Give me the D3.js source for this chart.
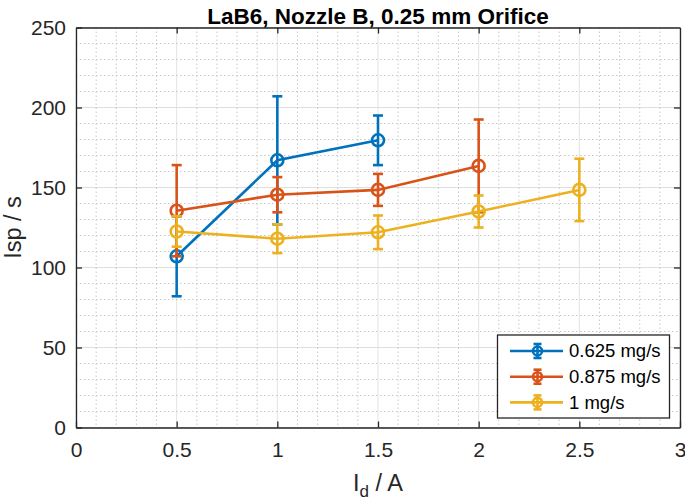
<!DOCTYPE html>
<html><head><meta charset="utf-8">
<script src="https://cdn.jsdelivr.net/npm/d3@7"></script>
<style>body{margin:0;background:#fff}svg{display:block;font-family:"Liberation Sans",Arial,sans-serif}</style>
</head><body><svg id="c" width="685" height="503"></svg>
<script>
const title = "LaB6, Nozzle B, 0.25 mm Orifice";
const seriesNames = ["0.625 mg/s", "0.875 mg/s", "1 mg/s"];
const seriesColors = ["#0072BD", "#D95319", "#EDB120"];
const xBlue = [0.5, 1, 1.5];
const yBlue = [107, 167, 179.5];
const eBlue = [25, 40, 15.5];
const xOrange = [0.5, 1, 1.5, 2];
const yOrange = [135.5, 145.5, 148.5, 163.5];
const eOrange = [28.5, 11, 10, 29];
const xYellow = [0.5, 1, 1.5, 2, 2.5];
const yYellow = [122.5, 118, 122, 135, 148.5];
const eYellow = [9.5, 9, 10.5, 10, 19.5];
const xTicks = [0, 0.5, 1, 1.5, 2, 2.5, 3];
const yTicks = [0, 50, 100, 150, 200, 250];

const series = [
  {x: xBlue, y: yBlue, e: eBlue},
  {x: xOrange, y: yOrange, e: eOrange},
  {x: xYellow, y: yYellow, e: eYellow}
].map((s, i) => ({name: seriesNames[i], color: seriesColors[i],
  pts: s.x.map((v, j) => ({x: v, y: s.y[j], e: s.e[j]}))}));

const svg = d3.select("#c");
const L = 76, R = 680, T = 27.5, B = 427.5;
const x = d3.scaleLinear().domain([0, 3]).range([L, R]);
const y = d3.scaleLinear().domain([0, 250]).range([B, T]);

// grids
const g = svg.append("g");
const minorX = d3.range(0, 3.0001, 0.1).filter(v => Math.abs(v*2 - Math.round(v*2)) > 1e-6);
const minorY = d3.range(0, 250.001, 10).filter(v => v % 50 !== 0);
g.selectAll(".mgx").data(xTicks).join("line").attr("x1", d => x(d)).attr("x2", d => x(d))
  .attr("y1", T).attr("y2", B).attr("stroke", "#e3e3e3").attr("stroke-width", 1);
g.selectAll(".mgy").data(yTicks).join("line").attr("y1", d => y(d)).attr("y2", d => y(d))
  .attr("x1", L).attr("x2", R).attr("stroke", "#dedede").attr("stroke-width", 1.2);
g.selectAll(".nx").data(minorX).join("line").attr("x1", d => x(d)).attr("x2", d => x(d))
  .attr("y1", T).attr("y2", B).attr("stroke", "#c8c8c8").attr("stroke-width", 1).attr("stroke-dasharray", "1.5,2.5");
g.selectAll(".ny").data(minorY).join("line").attr("y1", d => y(d)).attr("y2", d => y(d))
  .attr("x1", L).attr("x2", R).attr("stroke", "#c8c8c8").attr("stroke-width", 1).attr("stroke-dasharray", "1.5,2.5");

// axes
const ax = "#262626";
const tickLen = 6;
const fontTick = 21;
const xb = svg.append("g").attr("transform", `translate(0,${B})`)
  .call(d3.axisBottom(x).tickValues(xTicks).tickSizeInner(-tickLen).tickSizeOuter(0).tickPadding(15).tickFormat(d3.format("")));
const yl = svg.append("g").attr("transform", `translate(${L},0)`)
  .call(d3.axisLeft(y).tickValues(yTicks).tickSizeInner(-tickLen).tickSizeOuter(0).tickPadding(10));
const xt = svg.append("g").attr("transform", `translate(0,${T})`)
  .call(d3.axisTop(x).tickValues(xTicks).tickSizeInner(-tickLen).tickSizeOuter(0).tickFormat(""));
const yr = svg.append("g").attr("transform", `translate(${R},0)`)
  .call(d3.axisRight(y).tickValues(yTicks).tickSizeInner(-tickLen).tickSizeOuter(0).tickFormat(""));
[xb, yl, xt, yr].forEach(a => {
  a.attr("font-size", fontTick).attr("font-family", "Liberation Sans, Arial, sans-serif");
  a.select(".domain").attr("stroke", ax).attr("stroke-width", 1.3);
  a.selectAll(".tick line").attr("stroke", ax).attr("stroke-width", 1.3);
  a.selectAll(".tick text").attr("fill", "#262626").style("font-size", fontTick + "px");
});
xt.selectAll(".tick").filter(d => d === 0 || d === 3).select("line").remove();
yr.selectAll(".tick").filter(d => d === 0 || d === 250).select("line").remove();

// series
const line = d3.line().x(d => x(d.x)).y(d => y(d.y));
const cap = 5;
series.forEach(s => {
  const sg = svg.append("g");
  sg.append("path").attr("d", line(s.pts)).attr("fill", "none").attr("stroke", s.color).attr("stroke-width", 2.6);
  s.pts.forEach(p => {
    const eg = sg.append("g").attr("stroke", s.color).attr("stroke-width", 2.6).attr("fill", "none");
    eg.append("line").attr("x1", x(p.x)).attr("x2", x(p.x)).attr("y1", y(p.y - p.e)).attr("y2", y(p.y + p.e));
    eg.append("line").attr("x1", x(p.x) - cap).attr("x2", x(p.x) + cap).attr("y1", y(p.y + p.e)).attr("y2", y(p.y + p.e));
    eg.append("line").attr("x1", x(p.x) - cap).attr("x2", x(p.x) + cap).attr("y1", y(p.y - p.e)).attr("y2", y(p.y - p.e));
    eg.append("circle").attr("cx", x(p.x)).attr("cy", y(p.y)).attr("r", 6);
  });
});

// title and labels
svg.append("text").attr("x", (L + R) / 2).attr("y", 24).attr("text-anchor", "middle")
  .style("font-size", "22.5px").attr("font-weight", "bold").attr("fill", "#000").text(title);
const xlab = svg.append("text").attr("x", (L + R) / 2).attr("y", 491).attr("text-anchor", "middle")
  .style("font-size", "23.5px").attr("fill", "#262626");
xlab.append("tspan").text("I");
xlab.append("tspan").style("font-size", "17px").attr("dy", 6).text("d");
xlab.append("tspan").attr("dy", -6).text(" / A");
svg.append("text").attr("transform", `translate(21,${(T + B) / 2}) rotate(-90)`).attr("text-anchor", "middle")
  .style("font-size", "23.5px").attr("fill", "#262626").text("Isp / s");

// legend
const lg = svg.append("g");
lg.append("rect").attr("x", 497.5).attr("y", 335).attr("width", 172).attr("height", 83)
  .attr("fill", "#fff").attr("stroke", ax).attr("stroke-width", 1.3);
series.forEach((s, i) => {
  const cy = 351 + i * 25.7;
  const r = lg.append("g").attr("stroke", s.color).attr("stroke-width", 2.6).attr("fill", "none");
  r.append("line").attr("x1", 510).attr("x2", 563).attr("y1", cy).attr("y2", cy);
  r.append("line").attr("x1", 537.5).attr("x2", 537.5).attr("y1", cy - 7).attr("y2", cy + 7);
  r.append("line").attr("x1", 533.5).attr("x2", 541.5).attr("y1", cy - 7).attr("y2", cy - 7);
  r.append("line").attr("x1", 533.5).attr("x2", 541.5).attr("y1", cy + 7).attr("y2", cy + 7);
  r.append("circle").attr("cx", 537.5).attr("cy", cy).attr("r", 4.5);
  lg.append("text").attr("x", 569).attr("y", cy).attr("dy", "0.35em").style("font-size", "18.5px")
    .attr("fill", "#000").text(s.name);
});
</script></body></html>
